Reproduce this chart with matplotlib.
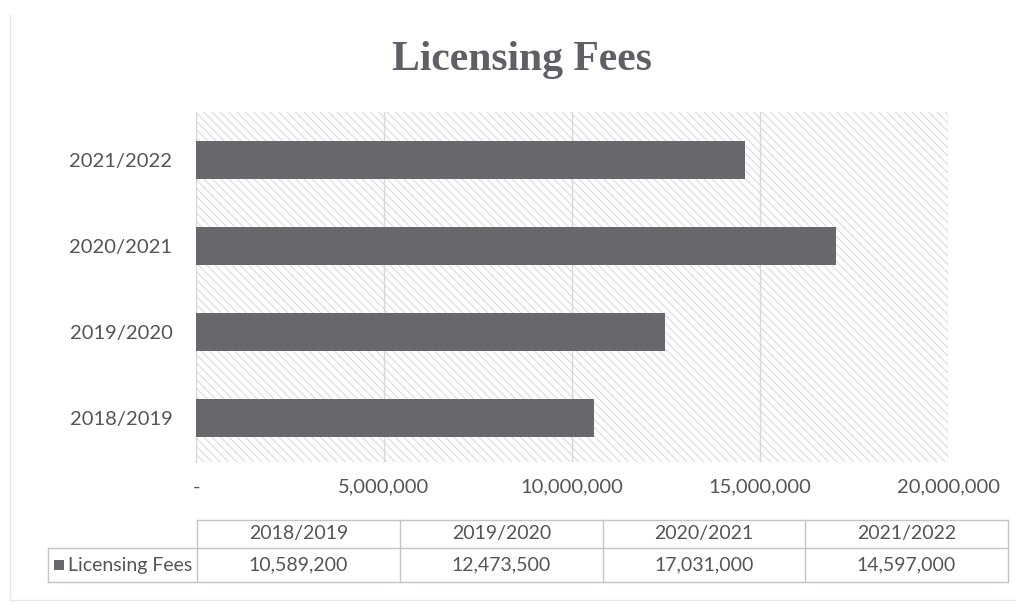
import matplotlib
matplotlib.use("Agg")
import matplotlib.pyplot as plt
from matplotlib.ticker import FixedLocator, FuncFormatter
from matplotlib.patches import Rectangle

categories = ["2018/2019", "2019/2020", "2020/2021", "2021/2022"]
values = [10589200, 12473500, 17031000, 14597000]
series_name = "Licensing Fees"
title = "Licensing Fees"
xticks = [0, 5000000, 10000000, 15000000, 20000000]

TEXT = "#555555"
BAR = "#68686c"
GRID = "#d6d6e0"
FONT = "Lato"

plt.rcParams["hatch.linewidth"] = 0.6
fig = plt.figure(figsize=(10.23, 6.14), dpi=100)
fig.patch.set_facecolor("white")

W, H = 1023, 614
def fx(px): return px / W
def fy(py): return 1 - py / H

ax = fig.add_axes([fx(196), fy(462), fx(948) - fx(196), fy(112) - fy(462)])
ax.set_facecolor("white")
bg = Rectangle((0, 0), 1, 1, transform=ax.transAxes, facecolor="white",
               edgecolor="#cfcfdc", hatch="\\\\\\\\", linewidth=0, zorder=0)
ax.add_patch(bg)

ypos = list(range(len(categories)))
ax.barh(ypos, values, height=0.44, color=BAR, zorder=3)
ax.set_xlim(0, 20000000)
ax.set_ylim(-0.51, 3.56)
ax.set_yticks(ypos)
ax.set_yticklabels(categories, fontsize=14.5, color=TEXT, family=FONT)
ax.xaxis.set_major_locator(FixedLocator(xticks))
ax.xaxis.set_major_formatter(FuncFormatter(lambda v, p: "-" if v == 0 else f"{int(v):,}"))
for lbl in ax.get_xticklabels():
    lbl.set_fontsize(14.5); lbl.set_color(TEXT); lbl.set_family(FONT)
ax.tick_params(axis="both", length=0)
ax.tick_params(axis="y", pad=17)
ax.tick_params(axis="x", pad=12)
ax.grid(axis="x", color=GRID, linewidth=1, zorder=1)
for s in ["top", "right", "bottom"]:
    ax.spines[s].set_visible(False)
ax.spines["left"].set_color(GRID)

fig.text(fx(522), fy(60), title, ha="center", va="center", fontsize=30,
         fontweight="bold", color="#5f5f66", family="Liberation Serif")

# data table
ov = fig.add_axes([0, 0, 1, 1], facecolor="none")
ov.set_xlim(0, W); ov.set_ylim(H, 0); ov.axis("off")
col_edges = [197, 400, 603, 805, 1008]
top, mid, bot = 520, 548, 582
lc = "#c4c4cc"
ov.plot([col_edges[0], col_edges[-1]], [top, top], color=lc, lw=1)
ov.plot([48, col_edges[-1]], [mid, mid], color=lc, lw=1)
ov.plot([48, col_edges[-1]], [bot, bot], color=lc, lw=1)
ov.plot([48, 48], [mid, bot], color=lc, lw=1)
for x in col_edges:
    ov.plot([x, x], [top, bot], color=lc, lw=1)
for i, (c, v) in enumerate(zip(categories, values)):
    cx = (col_edges[i] + col_edges[i + 1]) / 2
    ov.text(cx, (top + mid) / 2, c, ha="center", va="center", fontsize=14,
            color=TEXT, family=FONT)
    ov.text(cx, (mid + bot) / 2, f"{v:,}", ha="center", va="center", fontsize=14,
            color=TEXT, family=FONT)
ov.add_patch(Rectangle((54, 560), 10, 10, facecolor=BAR, edgecolor="none"))
ov.text(68, (mid + bot) / 2, series_name, ha="left", va="center", fontsize=14,
        color=TEXT, family=FONT)
# faint chart border
ov.plot([10, 10], [15, 600], color="#e6e6ec", lw=1)
ov.plot([10, 1015], [600, 600], color="#e6e6ec", lw=1)

fig.savefig("out.png", dpi=100)
